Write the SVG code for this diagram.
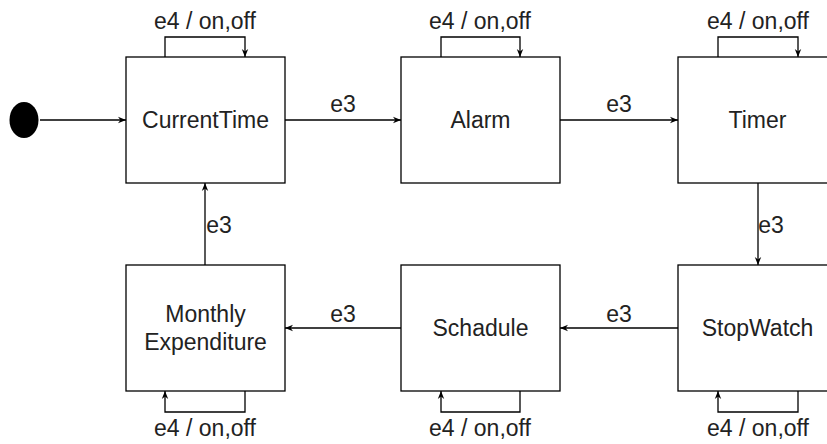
<svg xmlns="http://www.w3.org/2000/svg" width="827" height="444" viewBox="0 0 827 444">
<defs>
<marker id="arr" viewBox="0 0 10 10" refX="10" refY="5" markerWidth="8" markerHeight="8" markerUnits="userSpaceOnUse" orient="auto">
<path d="M0,1 L10,5 L0,9 L3,5 Z" fill="#000"/>
</marker>
</defs>
<style>
.box{fill:#fff;stroke:#000;stroke-width:1.3}
.t{font-family:"Liberation Sans",Arial,sans-serif;font-size:23px;fill:#222;text-anchor:middle}
.c{fill:none;stroke:#000;stroke-width:1.3;marker-end:url(#arr)}
</style>
<rect width="827" height="444" fill="#fff"/>
<g id="connectors">
<path class="c" d="M40,120 L126,120"/>
<path class="c" d="M285,120 L401,120"/>
<path class="c" d="M560,120 L678,120"/>
<path class="c" d="M758,183 L758,265"/>
<path class="c" d="M678,328 L560,328"/>
<path class="c" d="M401,328 L285,328"/>
<path class="c" d="M205,265 L205,183"/>
<path class="c" d="M165,57 L165,37 L245,37 L245,57"/>
<path class="c" d="M441,57 L441,37 L520,37 L520,57"/>
<path class="c" d="M718,57 L718,37 L798,37 L798,57"/>
<path class="c" d="M798,391 L798,412 L718,412 L718,391"/>
<path class="c" d="M520,391 L520,412 L441,412 L441,391"/>
<path class="c" d="M245,391 L245,412 L165,412 L165,391"/>
<text class="t" x="343" y="112">e3</text>
<text class="t" x="619" y="112">e3</text>
<text class="t" x="771" y="233">e3</text>
<text class="t" x="619" y="322">e3</text>
<text class="t" x="343" y="322">e3</text>
<text class="t" x="219" y="233">e3</text>
<text class="t" x="205" y="29">e4 / on,off</text>
<text class="t" x="480" y="29">e4 / on,off</text>
<text class="t" x="758" y="29">e4 / on,off</text>
<text class="t" x="758" y="436">e4 / on,off</text>
<text class="t" x="480" y="436">e4 / on,off</text>
<text class="t" x="205" y="436">e4 / on,off</text>
</g>
<g id="initial"><ellipse cx="24" cy="120" rx="14.5" ry="18" fill="#000"/></g>
<g id="CurrentTime"><rect class="box" x="126" y="57" width="159" height="126"/><text class="t" x="205.5" y="128">CurrentTime</text></g>
<g id="Alarm"><rect class="box" x="401" y="57" width="159" height="126"/><text class="t" x="480.5" y="128">Alarm</text></g>
<g id="Timer"><rect class="box" x="678" y="57" width="159" height="126"/><text class="t" x="757.5" y="128">Timer</text></g>
<g id="StopWatch"><rect class="box" x="678" y="265" width="159" height="126"/><text class="t" x="757.5" y="336">StopWatch</text></g>
<g id="Schadule"><rect class="box" x="401" y="265" width="159" height="126"/><text class="t" x="480.5" y="336">Schadule</text></g>
<g id="MonthlyExpenditure"><rect class="box" x="126" y="265" width="159" height="126"/><text class="t" x="205.5" y="322">Monthly</text><text class="t" x="205.5" y="350">Expenditure</text></g>
</svg>
